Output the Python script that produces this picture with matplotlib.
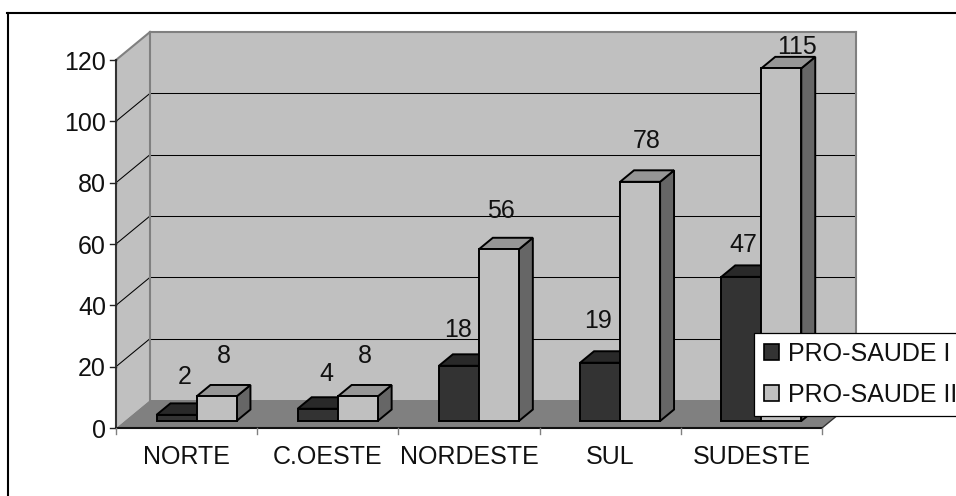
import numpy as np
import matplotlib
matplotlib.use("Agg")
import matplotlib.pyplot as plt
from matplotlib.patches import Polygon, Rectangle

plt.rcParams['font.family'] = ['Liberation Sans', 'DejaVu Sans']

# Values
regions = ["NORTE", "C.OESTE", "NORDESTE", "SUL", "SUDESTE"]
pro_saude_1 = [2, 4, 18, 19, 47]
pro_saude_2 = [8, 8, 56, 78, 115]
yticks = [0, 20, 40, 60, 80, 100, 120]
series_names = ["PRO-SAUDE I", "PRO-SAUDE II"]

# pixel layout of the fake 3d box
W, H = 956, 496
left, right, top, bottom = 116, 822, 60, 428
depth_x, depth_y = 34, 28
font = 18

fig = plt.figure(figsize=(W / 100, H / 100), dpi=100)
ax = fig.add_axes([left / W, 1 - bottom / H, (right - left) / W, (bottom - top) / H])
ax.set_xlim(0, 5)
ax.set_ylim(0, 120)
ax.axis("off")

px_x = 5 / (right - left)
px_y = 120 / (bottom - top)


def pt(x, v, d=0.0):
    # oblique projection, d is the depth in box units 0..1
    return (x + d * depth_x * px_x, v + d * depth_y * px_y)


def face(points, color, edge="none", lw=0, z=1):
    ax.add_patch(Polygon(points, closed=True, facecolor=color, edgecolor=edge,
                         linewidth=lw, zorder=z, clip_on=False, joinstyle="miter"))


def line(p, q, color="black", lw=1.0, z=2):
    ax.plot([p[0], q[0]], [p[1], q[1]], color=color, lw=lw, zorder=z, clip_on=False,
            solid_capstyle="projecting")


# walls and floor
face([pt(0, 0), pt(0, 0, 1), pt(0, 120, 1), pt(0, 120)], "#c0c0c0")
face([pt(0, 0, 1), pt(5, 0, 1), pt(5, 120, 1), pt(0, 120, 1)], "#c0c0c0")
face([pt(0, 0), pt(5, 0), pt(5, 0, 1), pt(0, 0, 1)], "#808080")

for v in yticks[1:-1]:
    line(pt(0, v), pt(0, v, 1), lw=0.75)
    line(pt(0, v, 1), pt(5, v, 1), lw=0.75)

line(pt(0, 0, 1), pt(0, 120, 1), "#808080", 1.5)
line(pt(0, 120), pt(0, 120, 1), "#808080", 1.5)
line(pt(0, 120, 1), pt(5, 120, 1), "#808080", 1.5)
line(pt(5, 120, 1), pt(5, 0, 1), "#808080", 1.5)
line(pt(5, 0, 1), pt(5, 0), "#333333", 1.0)

# axes
line(pt(0, 0), pt(0, 120), "#333333", 1.5, 3)
line(pt(0, 0), pt(5, 0), "#111111", 1.5, 3)
for v in yticks:
    ax.plot([-6 * px_x, 0], [v, v], color="#222222", lw=1, clip_on=False, zorder=3)
    ax.text(-10 * px_x, v, str(v), ha="right", va="center_baseline", fontsize=font, color="#111111")
for i in range(6):
    ax.plot([i, i], [0, -6 * px_y], color="#808080", lw=1, clip_on=False, zorder=3)
for i, name in enumerate(regions):
    ax.text(i + 0.5, -36 * px_y, name, ha="center", va="baseline", fontsize=font, color="#111111")


def box(x0, w, v, front, side, topc, z):
    d0, d1 = 0.25, 0.66
    x1 = x0 + w
    face([pt(x1, 0, d0), pt(x1, 0, d1), pt(x1, v, d1), pt(x1, v, d0)], side, "black", 1.4, z)
    face([pt(x0, v, d0), pt(x1, v, d0), pt(x1, v, d1), pt(x0, v, d1)], topc, "black", 1.4, z)
    face([pt(x0, 0, d0), pt(x1, 0, d0), pt(x1, v, d0), pt(x0, v, d0)], front, "black", 1.4, z)


bar_w = 40 * px_x
gap = 32 * px_x
for i in range(len(regions)):
    x1 = i + gap
    x2 = x1 + bar_w
    box(x1, bar_w, pro_saude_1[i], "#333333", "#292929", "#292929", 10 + i * 2)
    box(x2, bar_w, pro_saude_2[i], "#c0c0c0", "#666666", "#969696", 11 + i * 2)

# label shift from the bar front top, in pixels
shift_1 = [8, 9, -1, -2, 2]
shift_2 = [7, 7, 2, 7, 16]
rise_1 = [40, 37, 38, 44, 34]
rise_2 = [43, 43, 41, 43, 24]
for i in range(len(regions)):
    x1 = i + gap + bar_w / 2
    x2 = x1 + bar_w
    ax.annotate(str(pro_saude_1[i]), pt(x1, pro_saude_1[i], 0.25), xytext=(shift_1[i], rise_1[i]),
                textcoords="offset pixels", ha="center", va="center_baseline",
                fontsize=font, color="#111111", zorder=40, annotation_clip=False)
    ax.annotate(str(pro_saude_2[i]), pt(x2, pro_saude_2[i], 0.25), xytext=(shift_2[i], rise_2[i]),
                textcoords="offset pixels", ha="center", va="center_baseline",
                fontsize=font, color="#111111", zorder=40, annotation_clip=False)

# outer frame, only left and top fall inside the picture
fig.add_artist(plt.Line2D([7.5 / W, 7.5 / W], [1 - 12.5 / H, 0], color="black", lw=1.5))
fig.add_artist(plt.Line2D([7 / W, 1], [1 - 12.5 / H, 1 - 12.5 / H], color="black", lw=1.5))

# legend runs off the right edge
handles = [Rectangle((0, 0), 1, 1, facecolor="#333333", edgecolor="black", linewidth=1.2),
           Rectangle((0, 0), 1, 1, facecolor="#c0c0c0", edgecolor="black", linewidth=1.2)]
leg = ax.legend(handles, series_names, loc="lower left", bbox_to_anchor=(754 / W, 1 - 416 / H),
                bbox_transform=fig.transFigure, fontsize=font, frameon=True, fancybox=False,
                framealpha=1, edgecolor="black", borderaxespad=0, borderpad=0.38,
                handlelength=0.6, handleheight=0.6, handletextpad=0.38, labelspacing=0.66,
                labelcolor="#111111")
leg.set_zorder(50)
leg.get_frame().set_linewidth(0.9)

fig.savefig("out.png", dpi=100)
